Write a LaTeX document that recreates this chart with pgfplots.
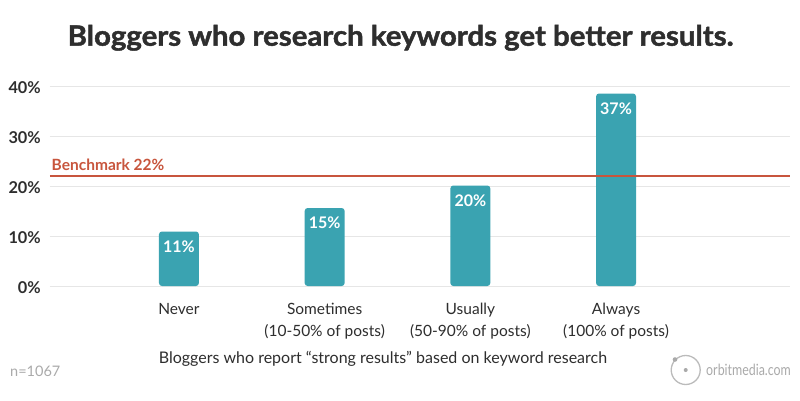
\documentclass[border=0pt]{standalone}
\usepackage{pgfplots}
\pgfplotsset{compat=1.18}
\usepackage{fontspec}
\setmainfont{Lato}
\newfontfamily\titlefont{Lato}[BoldFeatures={FakeBold=1.5}]
\definecolor{barteal}{HTML}{3AA3B1}
\definecolor{benchred}{HTML}{C8553D}
\definecolor{txtdark}{HTML}{2E2E2E}
\definecolor{txtgray}{HTML}{AAAAAA}
\definecolor{gridgray}{HTML}{E6E6E6}
\begin{document}
\begin{tikzpicture}[x=1pt,y=1pt]
\path[use as bounding box, fill=white] (0,0) rectangle (800,400);

% title
\node[anchor=base, inner sep=0, text=txtdark]
  at (400.5,354.3) {\scalebox{1.05}[1]{\titlefont\fontsize{28}{32}\selectfont\bfseries Bloggers who research keywords get better results.}};

\begin{axis}[
  at={(50pt,114pt)}, anchor=south west,
  scale only axis, width=740pt, height=200pt,
  xmin=-0.885, xmax=4.194, ymin=0, ymax=40,
  axis line style={draw=none},
  major tick length=0pt,
  ymajorgrids, major grid style={gridgray, line width=1pt},
  ytick={0,10,20,30,40},
  yticklabels={0\%,10\%,20\%,30\%,40\%},
  yticklabel style={anchor=east, inner sep=0pt, xshift=-9pt, yshift=-2pt,
    text=txtdark, font=\fontsize{16.3}{18}\selectfont\bfseries},
  xtick={0,1,2,3},
  xticklabels={Never\\\mbox{}, Sometimes\\(10-50\% of posts), Usually\\(50-90\% of posts), Always\\(100\% of posts)},
  xticklabel style={anchor=base, align=center, inner sep=0pt, yshift=-50.7pt,
    text=txtdark, font=\fontsize{15.5}{22.7}\selectfont},
  clip=false,
]
\addplot[ybar, bar width=40pt, fill=barteal, draw=none, rounded corners=3pt,
  point meta=explicit symbolic,
  nodes near coords,
  every node near coord/.append style={anchor=north, inner sep=0pt, yshift=-9pt,
    text=white, font=\fontsize{16}{18}\selectfont\bfseries}]
  coordinates {(0,10.9) [11\%] (1,15.6) [15\%] (2,20.1) [20\%] (3,38.5) [37\%]};
\addplot[benchred, line width=2pt, forget plot] coordinates {(-0.885,22) (4.194,22)};
\end{axis}

% benchmark label
\node[anchor=base west, inner sep=0, text=benchred]
  at (51.5,230) {\fontsize{15.5}{18}\selectfont\bfseries Benchmark 22\%};

% subtitle
\node[anchor=base, inner sep=0, text=txtdark]
  at (383,36.5) {\fontsize{16}{19}\selectfont Bloggers who report “strong results” based on keyword research};

% sample size
\node[anchor=base west, inner sep=0, text=txtgray]
  at (10,23.3) {\fontsize{14.5}{17}\selectfont n=1067};

% logo
\draw[txtgray!80, line width=1.3pt] (685.7,30) circle (14.5);
\fill[txtgray] (685.7,30) circle (2);
\fill[txtgray] (675,40.5) circle (2.3);
\node[anchor=west, inner sep=0, text=txtgray]
  at (706,30) {\scalebox{0.8}[1]{\fontsize{15.5}{18}\selectfont orbitmedia.com}};
\end{tikzpicture}
\end{document}
